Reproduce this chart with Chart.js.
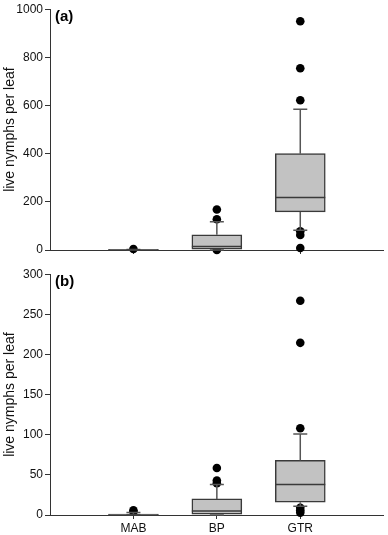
<!DOCTYPE html>
<html lang="en">
<head>
<meta charset="utf-8" />
<title>Live nymphs per leaf</title>
<style>
  * { margin: 0; padding: 0; }
  body { background: #fff; width: 388px; height: 535px; overflow: hidden; }
  .panel { position: absolute; left: 0; width: 388px; }
  #panelA { top: 0; height: 265px; }
  #panelB { top: 265px; height: 270px; }
</style>
</head>
<body>
<div class="panel" id="panelA"><canvas id="chartA"></canvas></div>
<div class="panel" id="panelB"><canvas id="chartB"></canvas></div>

<script src="https://cdn.jsdelivr.net/npm/chart.js"></script>
<script>
const categories = ["MAB", "BP", "GTR"];

// panel (a)
const aLow = [0, 0, 82];
const aQ1 = [0, 3, 158];
const aMedian = [0, 15, 218];
const aQ3 = [1, 63, 400];
const aHigh = [2, 117, 585];
const aOutliers = [[4], [168, 128, 0], [950, 755, 622, 78, 62, 8]];
const aTicks = [0, 200, 400, 600, 800, 1000];

// panel (b)
const bLow = [0, 0, 11];
const bQ1 = [0, 1, 16];
const bMedian = [0, 5, 38];
const bQ3 = [1, 20, 68];
const bHigh = [3, 38, 101];
const bOutliers = [[6, 4], [58.5, 43, 39.5], [267, 214.5, 108, 9, 6, 3]];
const bTicks = [0, 50, 100, 150, 200, 250, 300];

const FONT = "'Liberation Sans', Arial, sans-serif";

// whiskers, caps and median lines on top of the floating bars
const boxWhiskers = {
  id: "boxWhiskers",
  afterDatasetsDraw(chart, args, opts) {
    const { ctx, scales: { x, y } } = chart;
    ctx.save();
    opts.median.forEach((m, i) => {
      const cx = x.getPixelForValue(i + 1);
      const bar = chart.getDatasetMeta(0).data[i + 1];
      const half = bar.width / 2;
      ctx.strokeStyle = "#555";
      ctx.lineWidth = 1.5;
      // upper whisker
      ctx.beginPath();
      ctx.moveTo(cx, y.getPixelForValue(opts.q3[i]));
      ctx.lineTo(cx, y.getPixelForValue(opts.high[i]));
      ctx.moveTo(cx - 7, y.getPixelForValue(opts.high[i]));
      ctx.lineTo(cx + 7, y.getPixelForValue(opts.high[i]));
      // lower whisker
      ctx.moveTo(cx, y.getPixelForValue(opts.q1[i]));
      ctx.lineTo(cx, y.getPixelForValue(opts.low[i]));
      ctx.moveTo(cx - 7, y.getPixelForValue(opts.low[i]));
      ctx.lineTo(cx + 7, y.getPixelForValue(opts.low[i]));
      ctx.stroke();
      // median
      ctx.strokeStyle = "#3a3a3a";
      ctx.beginPath();
      ctx.moveTo(cx - half, y.getPixelForValue(m));
      ctx.lineTo(cx + half, y.getPixelForValue(m));
      ctx.stroke();
    });
    // panel letter
    ctx.fillStyle = "#000";
    ctx.font = "bold 15px " + FONT;
    ctx.textAlign = "left";
    ctx.textBaseline = "middle";
    ctx.fillText(opts.letter, chart.chartArea.left + 5, chart.chartArea.top + 8);
    ctx.restore();
  },
};

function makeChart(id, letter, low, q1, median, q3, high, outliers, ticks, showX, xHeight) {
  const labels = ["", ...categories, ""];
  const boxes = [null, ...q1.map((v, i) => [v, q3[i]]), null];
  const points = outliers.flatMap((arr, i) => arr.map((v) => ({ x: categories[i], y: v })));

  return new Chart(document.getElementById(id), {
    type: "bar",
    data: {
      labels: labels,
      datasets: [
        {
          data: boxes,
          backgroundColor: "#c2c2c2",
          borderColor: "#3a3a3a",
          borderWidth: 1.5,
          borderSkipped: false,
          barThickness: 50,
          order: 0,
        },
        {
          type: "scatter",
          data: points,
          pointRadius: 4.3,
          pointBackgroundColor: "#000",
          pointBorderWidth: 0,
          clip: false,
          order: 1,
        },
      ],
    },
    options: {
      responsive: true,
      maintainAspectRatio: false,
      animation: false,
      events: [],
      layout: { padding: { top: 8, right: 1, left: 0, bottom: 0 } },
      plugins: {
        legend: { display: false },
        tooltip: { enabled: false },
        boxWhiskers: { letter, low, q1, median, q3, high },
      },
      scales: {
        x: {
          type: "category",
          offset: false,
          grid: {
            offset: false,
            drawOnChartArea: false,
            tickLength: 4,
            color: (c) => (c.index === 0 || c.index === labels.length - 1 ? "rgba(0,0,0,0)" : "#333"),
          },
          border: { color: "#333", width: 1 },
          ticks: {
            display: showX,
            padding: 2,
            autoSkip: false,
            maxRotation: 0,
            color: "#111",
            font: { family: FONT, size: 12 },
          },
          afterFit: (s) => { s.height = xHeight; },
        },
        y: {
          min: ticks[0],
          max: ticks[ticks.length - 1],
          afterBuildTicks: (s) => { s.ticks = ticks.map((v) => ({ value: v })); },
          afterFit: (s) => { s.width = 50; },
          grid: { drawOnChartArea: false, tickLength: 5, color: "#333" },
          border: { color: "#333", width: 1 },
          ticks: {
            padding: 2,
            color: "#111",
            font: { family: FONT, size: 12 },
            callback: (v) => String(v),
          },
          title: {
            display: true,
            text: "live nymphs per leaf",
            color: "#111",
            font: { family: FONT, size: 14 },
            padding: { top: 2, bottom: 0 },
          },
        },
      },
    },
    plugins: [boxWhiskers],
  });
}

makeChart("chartA", "(a)", aLow, aQ1, aMedian, aQ3, aHigh, aOutliers, aTicks, false, 15);
makeChart("chartB", "(b)", bLow, bQ1, bMedian, bQ3, bHigh, bOutliers, bTicks, true, 20);
</script>
</body>
</html>
